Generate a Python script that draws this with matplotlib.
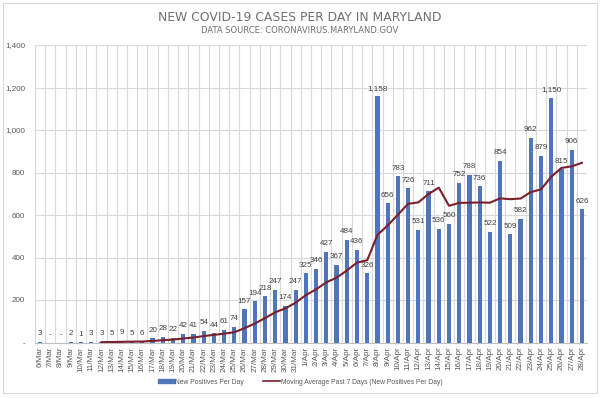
import matplotlib
matplotlib.use("Agg")
import matplotlib.pyplot as plt
from matplotlib.patches import Rectangle, Patch
from matplotlib.lines import Line2D
import matplotlib.ticker as mticker

plt.rcParams["font.family"] = ["Liberation Sans", "DejaVu Sans"]

dates = ([f"{d}/Mar" for d in range(6, 32)] + [f"{d}/Apr" for d in range(1, 29)])
cases = [3, 0, 0, 2, 1, 3, 3, 5, 9, 5, 6, 20, 28, 22, 42, 41, 54, 44, 61, 74,
         157, 194, 218, 247, 174, 247,
         325, 346, 427, 367, 484, 436, 326, 1158, 656, 783, 726, 531, 711, 536,
         560, 752, 788, 736, 522, 854, 509, 582, 962, 879, 1150, 815, 906, 626]
# moving average (starts at 12/Mar)
ma_start = 6
ma = [1.7, 2.0, 3.3, 4.0, 4.6, 7.3, 10.9, 13.6, 18.9, 23.4, 30.4, 35.9, 41.7,
      48.3, 67.6, 89.3, 114.6, 142.1, 160.7, 187.3,
      223.1, 250.1, 283.4, 304.7, 338.6, 376.0, 387.3, 506.3, 550.6, 601.4,
      652.7, 659.4, 698.7, 728.7, 643.3, 657.0, 657.7, 659.1, 657.9, 678.3,
      674.4, 677.6, 707.6, 720.6, 779.7, 821.6, 829.0, 845.7]

bar_color = "#4f76bd"
line_color = "#7a1f2b"
grid_color = "#d9d9d9"
text_color = "#595959"

fig = plt.figure(figsize=(6.0, 3.98), dpi=100)
ax = fig.add_axes([35/600, 1 - 342.5/398, (587-35)/600, (342.5-45)/398])

x = list(range(len(cases)))
ax.bar(x, cases, width=0.42, color=bar_color, zorder=3)
ax.plot(list(range(ma_start, ma_start + len(ma))), ma, color=line_color, lw=1.5, zorder=4)

for xi, v in zip(x, cases):
    lab = "-" if v == 0 else f"{v:,}"
    ax.annotate(lab, (xi, v), xytext=(0, 3.3), textcoords="offset points",
                ha="center", va="bottom", fontsize=5.8, color="#404040", zorder=5)

ax.set_xlim(-0.5, len(cases) - 0.5)
ax.set_ylim(0, 1400)
ax.yaxis.set_major_locator(mticker.MultipleLocator(200))
ax.yaxis.set_major_formatter(mticker.FuncFormatter(lambda v, p: "-" if v == 0 else f"{int(v):,}"))
ax.set_xticks(x)
ax.set_xticklabels(dates, rotation=90, fontsize=5.8, color=text_color)
ax.set_xticks([i - 0.5 for i in range(len(cases) + 1)], minor=True)
ax.tick_params(axis="x", which="both", length=0, pad=3)
ax.tick_params(axis="y", length=0, labelsize=5.8, labelcolor=text_color, pad=7)
ax.grid(axis="y", which="major", color=grid_color, lw=0.8, zorder=0)
ax.grid(axis="x", which="minor", color=grid_color, lw=0.8, zorder=0)
ax.grid(axis="x", which="major", visible=False)
for s in ["top", "right", "left"]:
    ax.spines[s].set_visible(False)
ax.spines["bottom"].set_color("#bfbfbf")

fig.text(0.5, 1 - 17.5/398, "NEW COVID-19 CASES PER DAY IN MARYLAND", ha="center", va="center",
         fontsize=8.9, color="#707070", family=["DejaVu Sans"])
fig.text(0.5, 1 - 30.5/398, "DATA SOURCE: CORONAVIRUS.MARYLAND.GOV", ha="center", va="center",
         fontsize=6.0, color="#707070", family=["DejaVu Sans"])

handles = [Patch(color=bar_color), Line2D([0], [0], color=line_color, lw=1.2)]
fig.legend(handles, ["New Positives Per Day", "Moving Average Past 7 Days (New Positives Per Day)"],
           loc="center", bbox_to_anchor=(0.5, 1 - 382/398), ncol=2, frameon=False,
           fontsize=4.9, labelcolor=text_color, handlelength=2.5, handleheight=0.5,
           columnspacing=2.8, handletextpad=0.1)

fig.patches.append(Rectangle((3/600, 5/398), 594/600, 390/398, transform=fig.transFigure,
                             fill=False, edgecolor="#d9d9d9", lw=0.8))

fig.savefig("out.png", dpi=100)
